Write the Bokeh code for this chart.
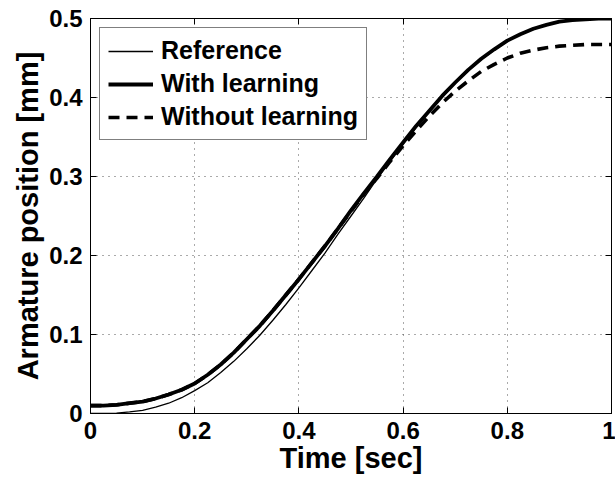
from bokeh.plotting import figure
from bokeh.models import FixedTicker, LinearAxis, Legend, LegendItem, Range1d
from bokeh.embed import file_html
from bokeh.resources import INLINE

# ---- data ----
time_s = [0.0, 0.025, 0.05, 0.075, 0.1, 0.125, 0.15, 0.175, 0.2, 0.225, 0.25, 0.275,
          0.3, 0.325, 0.35, 0.375, 0.4, 0.425, 0.45, 0.475, 0.5, 0.525, 0.55, 0.575,
          0.6, 0.625, 0.65, 0.675, 0.7, 0.725, 0.75, 0.775, 0.8, 0.825, 0.85, 0.875,
          0.9, 0.925, 0.95, 0.975, 1.0]
reference = [0.0, 0.0001, 0.0006, 0.002, 0.004, 0.008, 0.013, 0.020, 0.029, 0.039, 0.052, 0.066,
             0.082, 0.099, 0.118, 0.138, 0.159, 0.181, 0.203, 0.227, 0.250, 0.273, 0.297, 0.319,
             0.341, 0.362, 0.382, 0.401, 0.418, 0.434, 0.448, 0.460, 0.471, 0.480, 0.487, 0.492,
             0.496, 0.498, 0.4995, 0.4999, 0.500]
with_learning = [0.010, 0.010, 0.011, 0.013, 0.015, 0.019, 0.024, 0.030, 0.038, 0.049, 0.062, 0.077,
                 0.094, 0.111, 0.130, 0.150, 0.170, 0.191, 0.212, 0.234, 0.257, 0.279, 0.300, 0.322,
                 0.343, 0.364, 0.383, 0.402, 0.419, 0.435, 0.449, 0.461, 0.472, 0.480, 0.487, 0.492,
                 0.496, 0.498, 0.499, 0.500, 0.500]
without_learning = [0.010, 0.010, 0.011, 0.013, 0.015, 0.019, 0.024, 0.030, 0.038, 0.049, 0.062, 0.077,
                    0.094, 0.111, 0.130, 0.150, 0.170, 0.191, 0.212, 0.234, 0.256, 0.278, 0.298, 0.319,
                    0.339, 0.358, 0.376, 0.393, 0.408, 0.421, 0.433, 0.442, 0.450, 0.456, 0.460, 0.463,
                    0.465, 0.466, 0.467, 0.467, 0.467]

x_ticks = [0, 0.2, 0.4, 0.6, 0.8, 1.0]
x_tick_labels = ["0", "0.2", "0.4", "0.6", "0.8", "1"]
y_ticks = [0, 0.1, 0.2, 0.3, 0.4, 0.5]
y_tick_labels = ["0", "0.1", "0.2", "0.3", "0.4", "0.5"]
series_names = ["Reference", "With learning", "Without learning"]

FONT = "Liberation Sans"

p = figure(width=615, height=479, output_backend="svg", toolbar_location=None,
           x_range=Range1d(0, 1), y_range=Range1d(0, 0.5),
           min_border_left=90, min_border_right=4, min_border_top=18, min_border_bottom=66)
p.background_fill_color = "white"
p.border_fill_color = "white"
p.outline_line_color = "black"
p.outline_line_width = 1

r_ref = p.line(time_s, reference, line_color="black", line_width=1.3)
r_with = p.line(time_s, with_learning, line_color="black", line_width=3.8)
r_without = p.line(time_s, without_learning, line_color="black", line_width=3.6, line_dash="11 7")

xa = p.xaxis[0]
ya = p.yaxis[0]
for ax in (xa, ya):
    ax.major_tick_in = 6
    ax.major_tick_out = 0
    ax.minor_tick_line_color = None
    ax.axis_line_color = "black"
    ax.major_tick_line_color = "black"
    ax.major_label_text_font = FONT
    ax.major_label_text_font_style = "bold"
    ax.major_label_text_font_size = "24px"
    ax.major_label_text_color = "black"
    ax.axis_label_text_font = FONT
    ax.axis_label_text_font_style = "bold"
    ax.axis_label_text_font_size = "29px"
    ax.axis_label_text_color = "black"
xa.ticker = FixedTicker(ticks=x_ticks)
ya.ticker = FixedTicker(ticks=y_ticks)
xa.major_label_overrides = {t: l for t, l in zip(x_ticks, x_tick_labels)}
ya.major_label_overrides = {t: l for t, l in zip(y_ticks, y_tick_labels)}
xa.axis_label = "Time [sec]"
ya.axis_label = "Armature position [mm]"
xa.major_label_standoff = 8
ya.major_label_standoff = 8
xa.axis_label_standoff = 0
ya.axis_label_standoff = 2

top_ax = LinearAxis(ticker=FixedTicker(ticks=x_ticks), major_tick_in=6, major_tick_out=0,
                    minor_tick_line_color=None, major_label_standoff=0, axis_line_color="black",
                    major_label_overrides={t: "" for t in x_ticks})
right_ax = LinearAxis(ticker=FixedTicker(ticks=y_ticks), major_tick_in=6, major_tick_out=0,
                      minor_tick_line_color=None, major_label_standoff=0, axis_line_color="black",
                      major_label_overrides={t: "" for t in y_ticks})
p.add_layout(top_ax, "above")
p.add_layout(right_ax, "right")

p.xgrid.ticker = FixedTicker(ticks=x_ticks)
p.ygrid.ticker = FixedTicker(ticks=y_ticks)
for g in (p.xgrid[0], p.ygrid[0]):
    g.grid_line_color = "#555555"
    g.grid_line_dash = "1 5"
    g.grid_line_width = 1

legend = Legend(items=[LegendItem(label=series_names[0], renderers=[r_ref]),
                       LegendItem(label=series_names[1], renderers=[r_with]),
                       LegendItem(label=series_names[2], renderers=[r_without])],
                location="top_left")
legend.margin = 9
legend.padding = 8
legend.spacing = 4
legend.glyph_width = 45
legend.glyph_height = 28
legend.label_height = 28
legend.label_standoff = 8
legend.label_text_font = FONT
legend.label_text_font_style = "bold"
legend.label_text_font_size = "25px"
legend.label_text_color = "black"
legend.border_line_color = "black"
legend.border_line_width = 1
legend.background_fill_color = "white"
legend.background_fill_alpha = 1
p.add_layout(legend, "center")

open("out.html", "w").write(file_html(p, INLINE))
